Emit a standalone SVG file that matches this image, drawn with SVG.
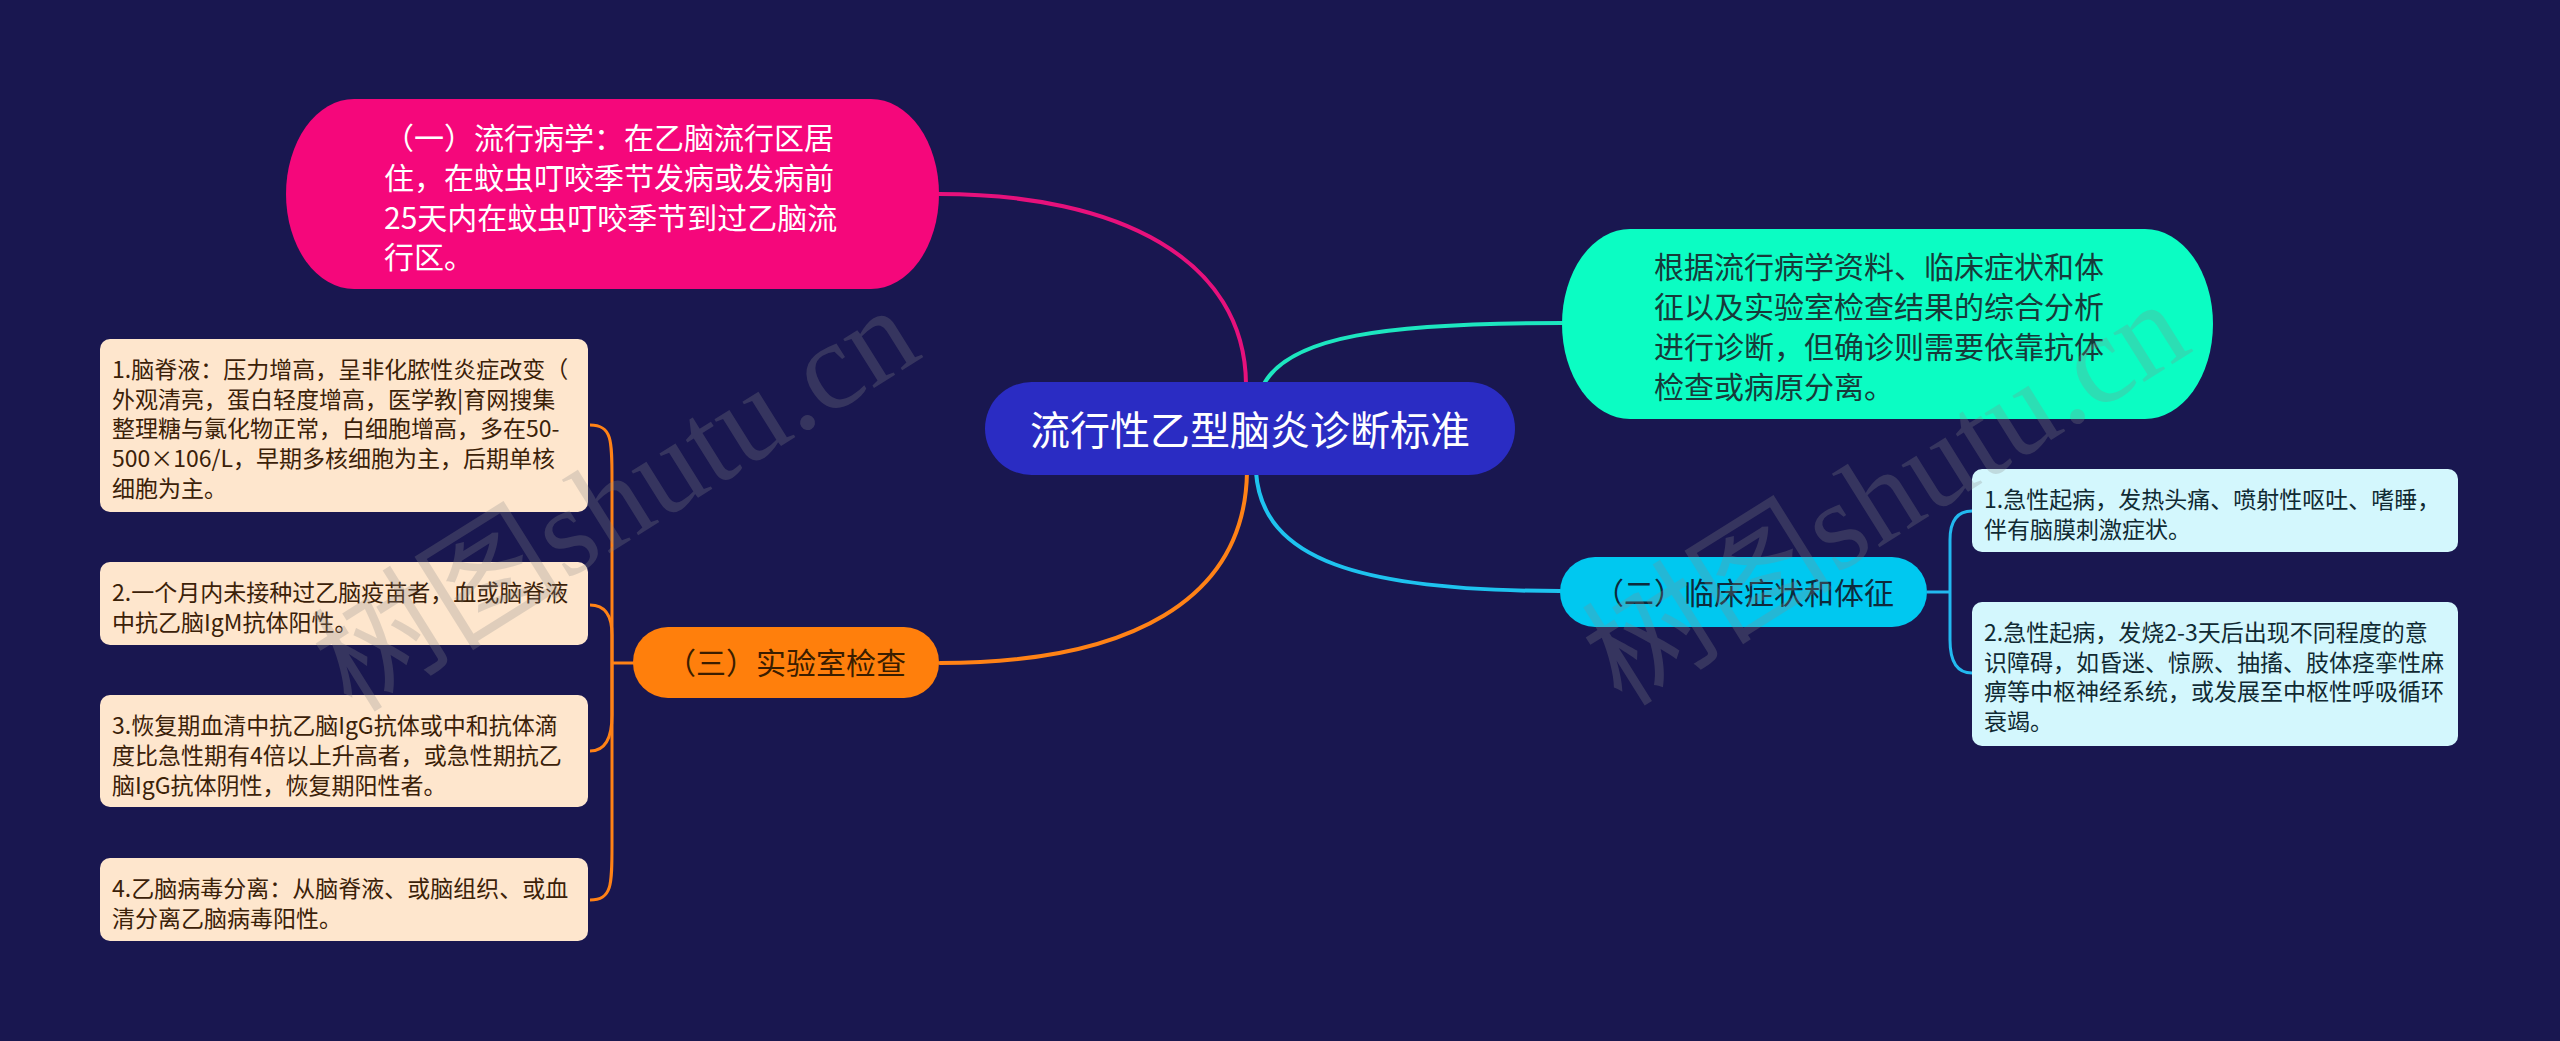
<svg xmlns="http://www.w3.org/2000/svg" width="2560" height="1041" viewBox="0 0 2560 1041">
<style>
.t{font-family:"Noto Sans CJK SC","Noto Sans",sans-serif}
.main{font-size:30px}
.sub{font-size:23px}
.wm{font-family:"Liberation Serif","Noto Sans CJK SC",serif;font-size:126px;fill:#8a8a8a;opacity:0.26}
.c{fill:none;stroke-linecap:round}
</style>
<rect width="2560" height="1041" fill="#191750"/>
<g id="connectors">
<path class="c" d="M 939 194 C 1120 194, 1245 260, 1246 384" stroke="#e6117c" stroke-width="4"/>
<path class="c" d="M 1262 388 C 1285 335, 1390 323, 1562 323" stroke="#1de6c0" stroke-width="4"/>
<path class="c" d="M 1256 472 C 1262 560, 1360 591, 1560 591" stroke="#1ec3ef" stroke-width="4"/>
<path class="c" d="M 940 663 C 1130 663, 1245 600, 1247 472" stroke="#ff8216" stroke-width="4"/>
<g stroke="#ff8216" stroke-width="3" fill="none">
<path d="M 634 663 L 612 663"/>
<path d="M 590 425 C 612 425, 612 440, 612 480 L 612 663"/>
<path d="M 590 605 Q 612 605 612 635 L 612 663"/>
<path d="M 590 751 Q 612 751 612 715 L 612 663"/>
<path d="M 590 900 C 612 900, 612 885, 612 845 L 612 663"/>
</g>
<g stroke="#22b9ef" stroke-width="3" fill="none">
<path d="M 1927 592 L 1950 592"/>
<path d="M 1972 511 Q 1950 511 1950 540 L 1950 592"/>
<path d="M 1972 673 Q 1950 673 1950 640 L 1950 592"/>
</g>
</g>
<g id="center">
<rect x="985" y="382" width="530" height="93" rx="46.5" fill="#2a2cc3"/>
<text class="t" x="1250" y="445" font-size="40" fill="#ffffff" text-anchor="middle">流行性乙型脑炎诊断标准</text>
</g>
<g id="node-epidemiology">
<rect x="286" y="99" width="653" height="190" rx="68" ry="95" fill="#f5077b"/>
<text class="t main" fill="#ffffff"><tspan x="384" y="149">（一）流行病学：在乙脑流行区居</tspan><tspan x="384" y="189">住，在蚊虫叮咬季节发病或发病前</tspan><tspan x="384" y="229">25天内在蚊虫叮咬季节到过乙脑流</tspan><tspan x="384" y="268">行区。</tspan></text>
</g>
<g id="node-summary">
<rect x="1562" y="229" width="651" height="190" rx="68" ry="95" fill="#0bfdc3"/>
<text class="t main" fill="#173a3a"><tspan x="1654" y="278">根据流行病学资料、临床症状和体</tspan><tspan x="1654" y="318">征以及实验室检查结果的综合分析</tspan><tspan x="1654" y="358">进行诊断，但确诊则需要依靠抗体</tspan><tspan x="1654" y="398">检查或病原分离。</tspan></text>
</g>
<g id="node-clinical">
<rect x="1560" y="557" width="367" height="70" rx="35" fill="#00c8f0"/>
<text class="t main" x="1744" y="604" fill="#0e2a3c" text-anchor="middle">（二）临床症状和体征</text>
</g>
<g id="node-clinical-1">
<rect x="1972" y="469" width="486" height="83" rx="10" fill="#d3f7fd"/>
<text class="t sub" fill="#102a33"><tspan x="1984" y="508">1.急性起病，发热头痛、喷射性呕吐、嗜睡，</tspan><tspan x="1984" y="538">伴有脑膜刺激症状。</tspan></text>
</g>
<g id="node-clinical-2">
<rect x="1972" y="602" width="486" height="144" rx="10" fill="#d3f7fd"/>
<text class="t sub" fill="#102a33"><tspan x="1984" y="641">2.急性起病，发烧2-3天后出现不同程度的意</tspan><tspan x="1984" y="671">识障碍，如昏迷、惊厥、抽搐、肢体痉挛性麻</tspan><tspan x="1984" y="700">痹等中枢神经系统，或发展至中枢性呼吸循环</tspan><tspan x="1984" y="730">衰竭。</tspan></text>
</g>
<g id="node-lab">
<rect x="633" y="627" width="306" height="71" rx="35" fill="#ff7f0c"/>
<text class="t main" x="786" y="674" fill="#3a1d00" text-anchor="middle">（三）实验室检查</text>
</g>
<g id="node-lab-1">
<rect x="100" y="339" width="488" height="173" rx="10" fill="#fee6cd"/>
<text class="t sub" fill="#3b2108"><tspan x="112" y="378">1.脑脊液：压力增高，呈非化脓性炎症改变（</tspan><tspan x="112" y="408">外观清亮，蛋白轻度增高，医学教|育网搜集</tspan><tspan x="112" y="437">整理糖与氯化物正常，白细胞增高，多在50-</tspan><tspan x="112" y="467">500×106/L，早期多核细胞为主，后期单核</tspan><tspan x="112" y="497">细胞为主。</tspan></text>
</g>
<g id="node-lab-2">
<rect x="100" y="562" width="488" height="83" rx="10" fill="#fee6cd"/>
<text class="t sub" fill="#3b2108"><tspan x="112" y="601">2.一个月内未接种过乙脑疫苗者，血或脑脊液</tspan><tspan x="112" y="631">中抗乙脑IgM抗体阳性。</tspan></text>
</g>
<g id="node-lab-3">
<rect x="100" y="695" width="488" height="112" rx="10" fill="#fee6cd"/>
<text class="t sub" fill="#3b2108"><tspan x="112" y="734">3.恢复期血清中抗乙脑IgG抗体或中和抗体滴</tspan><tspan x="112" y="764">度比急性期有4倍以上升高者，或急性期抗乙</tspan><tspan x="112" y="794">脑IgG抗体阴性，恢复期阳性者。</tspan></text>
</g>
<g id="node-lab-4">
<rect x="100" y="858" width="488" height="83" rx="10" fill="#fee6cd"/>
<text class="t sub" fill="#3b2108"><tspan x="112" y="897">4.乙脑病毒分离：从脑脊液、或脑组织、或血</tspan><tspan x="112" y="927">清分离乙脑病毒阳性。</tspan></text>
</g>
<g id="watermarks">
<text class="wm" transform="translate(352 714) rotate(-32)">树图shutu.cn</text>
<text class="wm" transform="translate(1622 708) rotate(-32)">树图shutu.cn</text>
</g>
</svg>
